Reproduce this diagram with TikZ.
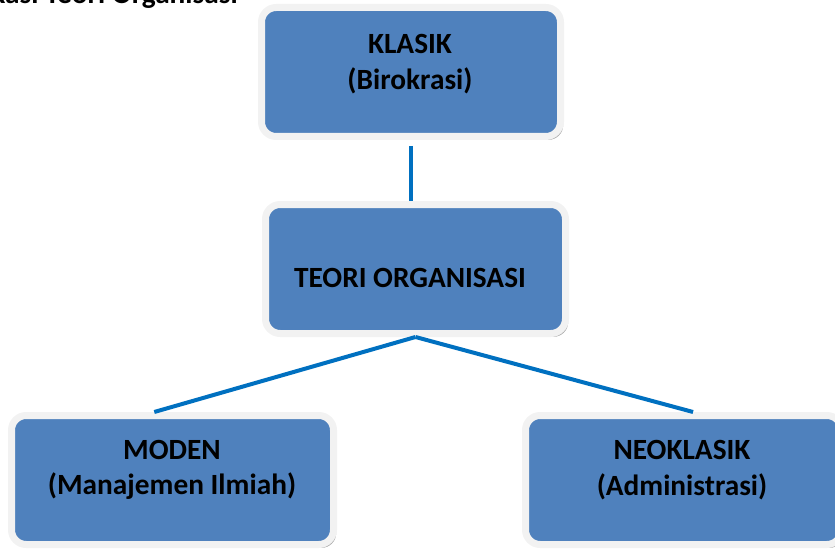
\documentclass[tikz,border=0pt]{standalone}
\usepackage{fontspec}
\setmainfont{Carlito}
\usetikzlibrary{shadows}

\definecolor{boxblue}{HTML}{4F81BD}
\definecolor{linkblue}{HTML}{0070C0}
\definecolor{framegray}{HTML}{F2F2F2}

\tikzset{
	tbox/.style={rectangle,rounded corners=11pt,fill=boxblue,draw=framegray,
		line width=5.25pt,minimum height=96.75pt,
		drop shadow={shadow xshift=2pt,shadow yshift=-2.5pt,fill=gray!70,opacity=1}},
	tlabel/.style={align=center,font=\bfseries\fontsize{22}{26.5}\selectfont},
	link/.style={linkblue,line width=3pt}
}

\begin{document}
\begin{tikzpicture}[x=0.75pt,y=-0.75pt]
	\useasboundingbox (0,0) rectangle (835,549);

	% title, cut at the top
	\node[anchor=base east,inner sep=0pt,font=\bfseries\fontsize{22}{26.5}\selectfont] (judul) at (238,4) {Klasifikasi Teori Organisasi};

	% boxes
	\node[tbox,minimum width=224.25pt] (klasik) at (411,72) {};
	\node[tbox,minimum width=225pt] (teori) at (415.5,269) {};
	\node[tbox,minimum width=241.5pt] (moden) at (172.5,480) {};
	\node[tbox,minimum width=237pt] (neoklasik) at (683.5,480) {};

	% box texts
	\node[tlabel] (klasiktxt) at (410,64) {KLASIK\\(Birokrasi)};
	\node[tlabel] (teoritxt) at (410,278) {TEORI ORGANISASI};
	\node[tlabel] (modentxt) at (172,470) {MODEN\\(Manajemen Ilmiah)};
	\node[tlabel] (neoklasiktxt) at (682,470) {NEOKLASIK\\(Administrasi)};

	% connectors
	\draw[link,shorten <=4.5pt] (klasik.south) -- (klasik.south |- teori.north);
	\draw[link] (teori.south) -- (moden.105);
	\draw[link] (teori.south) -- (neoklasik.82);
\end{tikzpicture}
\end{document}
